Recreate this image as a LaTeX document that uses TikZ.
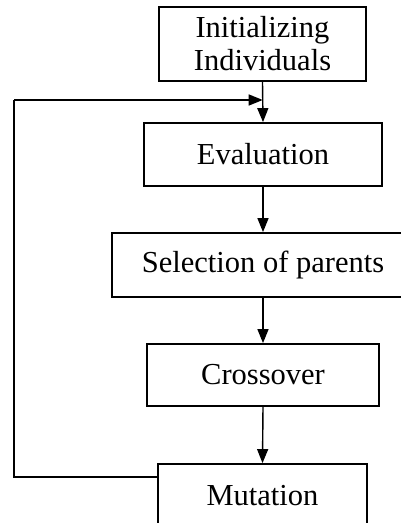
\documentclass[tikz,border=0pt]{standalone}
\usepackage{fontspec}
\setmainfont{Liberation Serif}
\usetikzlibrary{positioning,arrows.meta,calc}

\begin{document}
\begin{tikzpicture}[x=1pt, y=-1pt,
    boxStyle/.style={rectangle, draw=black, line width=1.8pt, inner sep=0pt, align=center, font=\fontsize{30.5}{33}\selectfont},
    lineStyle/.style={draw=black, line width=1.4pt},
    arrowStyle/.style={lineStyle, -{Triangle[length=14pt, width=11pt]}}
]
    \clip (0,0) rectangle (401,523);
    \useasboundingbox (0,0) rectangle (401,523);

    \node[boxStyle, minimum width=207pt, minimum height=74pt] (init) at (262.5, 44) {Initializing\\Individuals};
    \node[boxStyle, minimum width=238pt, minimum height=63pt] (eval) at (263, 154.5) {Evaluation};
    \node[boxStyle, minimum width=302pt, minimum height=64pt] (select) at (263, 265) {Selection of parents};
    \node[boxStyle, minimum width=232pt, minimum height=62pt] (cross) at (263, 375) {Crossover};
    \node[boxStyle, minimum width=209pt, minimum height=63pt] (mutate) at (262.5, 495.5) {Mutation};

    \draw[arrowStyle] (init.south) -- (eval.north);
    \draw[arrowStyle] (eval.south) -- (select.north);
    \draw[arrowStyle] (select.south) -- (cross.north);
    \draw[arrowStyle] (cross.south) -- (mutate.north);

    % feedback loop back to evaluation
    \coordinate (loopOut) at ([yshift=-14pt]mutate.north west);
    \coordinate (loopIn) at ($(init.south)!0.45!(eval.north)$);
    \draw[lineStyle] (loopOut) -- (14, 0 |- loopOut) -- (14, 0 |- loopIn);
    \draw[arrowStyle] (14, 0 |- loopIn) -- (loopIn);
\end{tikzpicture}
\end{document}
